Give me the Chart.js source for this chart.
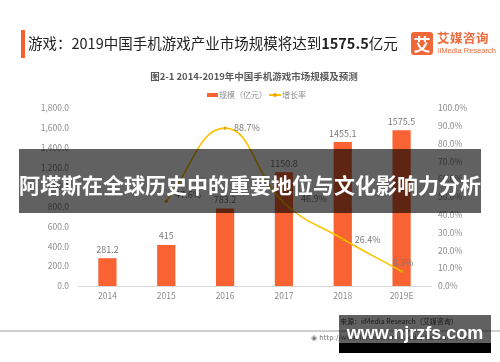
<!DOCTYPE html>
<html>
<head>
<meta charset="utf-8">
<script src="https://cdn.jsdelivr.net/npm/chart.js@4/dist/chart.umd.min.js"></script>
<style>
  html,body{margin:0;padding:0;background:#fff;}
  #wrap{position:relative;width:500px;height:362px;overflow:hidden;font-family:"Noto Sans CJK SC","Noto Sans",sans-serif;}
  #c{position:absolute;left:0;top:0;}
  .abs{position:absolute;white-space:nowrap;}
</style>
</head>
<body>
<div id="wrap">
  <canvas id="c" width="500" height="362"></canvas>
  <div class="abs" style="left:21px;top:30px;width:4px;height:28px;background:#F5622E;"></div>
  <div class="abs" id="title" style="left:28px;top:33px;font-size:14.5px;line-height:20px;color:#222;">游戏：2019中国手机游戏产业市场规模将达到<b>1575.5</b>亿元</div>
  <div class="abs" style="left:411px;top:32px;width:22px;height:23px;background:#F0693A;border-radius:3px;color:#fff;font-weight:bold;font-size:17px;line-height:23px;text-align:center;">艾</div>
  <div class="abs" style="left:437px;top:30px;font-size:12.5px;line-height:16px;font-weight:bold;color:#EE6A3C;letter-spacing:0.5px;">艾媒咨询</div>
  <div class="abs" style="left:438px;top:46px;font-size:7.5px;line-height:10px;color:#EE6A3C;font-family:'Liberation Sans',sans-serif;">iiMedia Research</div>
  <div class="abs" id="sub" style="left:0;width:508px;text-align:center;top:69px;font-size:9.5px;line-height:14px;color:#595959;font-weight:bold;">图2-1 2014-2019年中国手机游戏市场规模及预测</div>
  <div class="abs" style="left:207px;top:93px;width:11px;height:4px;background:#F96232;"></div>
  <div class="abs" style="left:219px;top:89px;font-size:8px;line-height:11px;color:#8c8c8c;">规模（亿元）</div>
  <div class="abs" style="left:269px;top:94px;width:12px;height:1.5px;background:#FFC000;"></div>
  <div class="abs" style="left:273px;top:93px;width:4px;height:4px;border-radius:2px;background:#F0A800;"></div>
  <div class="abs" style="left:282px;top:89px;font-size:8px;line-height:11px;color:#8c8c8c;">增长率</div>
  <div class="abs" style="left:0;top:330px;width:500px;height:2px;background:#cfcfcf;"></div>
  <div class="abs" style="left:311px;top:333px;font-size:7px;line-height:10px;color:#777;font-family:'DejaVu Sans',sans-serif;">&#9673; http://www.iimedia.cn  iiMedia Research Inc</div>
  <div class="abs" style="left:340px;top:316px;font-size:7px;line-height:10px;color:#444;">来源：iiMedia Research（艾媒咨询）</div>
  <div class="abs" style="left:339px;top:315px;width:152px;height:28px;background:rgba(0,0,0,0.62);"></div>
  <div class="abs" style="left:339px;top:343px;width:152px;height:10px;background:#000;"></div>
  <div class="abs" style="left:339px;top:322px;width:152px;text-align:center;font-family:'Liberation Sans',sans-serif;font-weight:bold;font-size:18px;line-height:22px;color:#fff;">www.njrzfs.com</div>
  <div class="abs" style="left:19px;top:149px;width:462px;height:64px;background:rgba(0,0,0,0.62);"></div>
  <div class="abs" style="left:19px;top:171px;width:462px;text-align:center;color:#fff;font-weight:bold;font-size:21px;line-height:26px;letter-spacing:0px;">阿塔斯在全球历史中的重要地位与文化影响力分析</div>
</div>
<script>
const categories = ['2014','2015','2016','2017','2018','2019E'];
const marketSize = [281.2, 415, 783.2, 1150.8, 1455.1, 1575.5];
const marketLabels = ['281.2','415','783.2','1150.8','1455.1','1575.5'];
const growthRate = [null, 47.6, 88.7, 46.9, 26.4, 8.3];
const growthLabels = ['', '47.6%', '88.7%', '46.9%', '26.4%', '8.3%'];
const leftTicksMax = 1800;
const rightTicksMax = 100;

// label placement offsets (style only)
const growthLabelOffsets = [[0,0],[9,-7],[9,-1],[17,-4],[12,1],[-9,-9]];

const labelPlugin = {
  id: 'valueLabels',
  afterDatasetsDraw(chart) {
    const ctx = chart.ctx;
    ctx.save();
    ctx.font = '9px "Noto Sans CJK SC", "Noto Sans", sans-serif';
    ctx.fillStyle = '#7a7a7a';
    const barMeta = chart.getDatasetMeta(0);
    barMeta.data.forEach((el, i) => {
      ctx.textAlign = 'center';
      ctx.textBaseline = 'middle';
      ctx.fillText(marketLabels[i], el.x, el.y - 9);
    });
    const lineMeta = chart.getDatasetMeta(1);
    lineMeta.data.forEach((el, i) => {
      if (growthRate[i] === null) return;
      const o = growthLabelOffsets[i];
      ctx.textAlign = 'left';
      ctx.textBaseline = 'middle';
      ctx.fillText(growthLabels[i], el.x + o[0], el.y + o[1]);
    });
    ctx.restore();
  }
};

new Chart(document.getElementById('c'), {
  data: {
    labels: categories,
    datasets: [
      {
        type: 'bar',
        label: '规模（亿元）',
        data: marketSize,
        backgroundColor: '#F96232',
        barPercentage: 0.31,
        categoryPercentage: 1,
        yAxisID: 'y',
        order: 1
      },
      {
        type: 'line',
        label: '增长率',
        data: growthRate,
        borderColor: '#FFC000',
        borderWidth: 1.6,
        backgroundColor: '#E0A400',
        pointRadius: 1.6,
        pointBorderWidth: 0,
        tension: 0.45,
        spanGaps: false,
        yAxisID: 'y1',
        order: 0
      }
    ]
  },
  options: {
    responsive: false,
    animation: false,
    devicePixelRatio: 1,
    layout: { padding: { top: 108, bottom: 0, left: 0, right: 0 } },
    plugins: { legend: { display: false }, tooltip: { enabled: false } },
    scales: {
      x: {
        grid: { display: false, drawTicks: false },
        border: { display: true, color: '#d9d9d9', width: 1 },
        ticks: { color: '#8c8c8c', font: { size: 8.5, family: '"Noto Sans CJK SC", "Noto Sans", sans-serif' }, padding: 5, maxRotation: 0 },
        afterFit(s) { s.height = 76; }
      },
      y: {
        position: 'left',
        min: 0, max: leftTicksMax,
        grid: { display: false, drawTicks: false },
        border: { display: false },
        ticks: {
          stepSize: 200, padding: 9, color: '#8c8c8c',
          font: { size: 8.5, family: '"Noto Sans CJK SC", "Noto Sans", sans-serif' },
          callback: v => v.toLocaleString('en-US', { minimumFractionDigits: 1, maximumFractionDigits: 1 })
        },
        afterFit(s) { s.width = 78; }
      },
      y1: {
        position: 'right',
        min: 0, max: rightTicksMax,
        grid: { display: false, drawTicks: false },
        border: { display: false },
        ticks: {
          stepSize: 10, padding: 7, color: '#8c8c8c',
          font: { size: 8.5, family: '"Noto Sans CJK SC", "Noto Sans", sans-serif' },
          callback: v => v.toFixed(1) + '%'
        },
        afterFit(s) { s.width = 69; }
      }
    }
  },
  plugins: [labelPlugin]
});
</script>
</body>
</html>
